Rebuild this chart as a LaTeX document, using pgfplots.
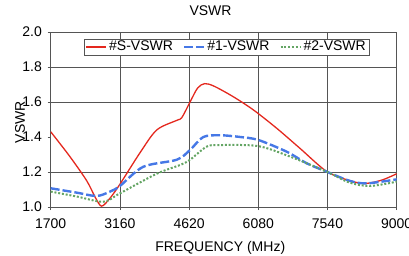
\documentclass[border=0pt]{standalone}
\usepackage{fontspec}
\setmainfont{Liberation Sans}
\usepackage{pgfplots}
\pgfplotsset{compat=1.18}
\definecolor{cred}{RGB}{228,40,30}
\definecolor{cblue}{RGB}{70,120,230}
\definecolor{cgreen}{RGB}{100,165,100}
\definecolor{cgrid}{RGB}{85,85,85}
\begin{document}
\begin{tikzpicture}
\fontsize{14}{16}\selectfont
\begin{axis}[
  at={(50.7pt,48pt)}, anchor=south west,
  scale only axis, width=346pt, height=175pt,
  xmin=1700, xmax=9000, ymin=1.0, ymax=2.0,
  xtick={1700,3160,4620,6080,7540,9000},
  ytick={1.0,1.2,1.4,1.6,1.8,2.0},
  yticklabels={1.0,1.2,1.4,1.6,1.8,2.0},
  xticklabel style={/pgf/number format/1000 sep={}},
  /pgf/number format/assume math mode=true,
  tick label style={font=\fontsize{14}{16}\selectfont},
  xmajorgrids=true,
  extra y ticks={1.2,1.6,1.8}, extra y tick labels={},
  extra y tick style={ymajorgrids=true, major tick length=0pt},
  grid style={cgrid, line width=0.8pt},
  axis line style={cgrid, line width=0.8pt},
  major tick style={cgrid, line width=0.8pt},
  tick align=outside, major tick length=3pt,
  xtick pos=bottom, ytick pos=left,
  xticklabel style={yshift=-4pt},
  yticklabel style={xshift=-1pt},
  xlabel={FREQUENCY (MHz)},
  xlabel style={at={(0.49,0)}, anchor=center, yshift=-41pt, font=\fontsize{14}{16}\selectfont},
  title={VSWR},
  title style={at={(0.462,1)}, anchor=center, yshift=15pt, font=\fontsize{14}{16}\selectfont},
  legend columns=3,
  legend style={at={(0.509,0.914)}, anchor=center, draw=cgrid, line width=0.6pt,
    font=\fontsize{14}{16}\selectfont, inner xsep=2pt, inner ysep=0pt,
    /tikz/every even column/.append style={column sep=8pt}},
  legend image code/.code={\draw[#1] (0pt,0pt) -- (20pt,0pt);},
]
\addplot[cred, line width=1.3pt, smooth, tension=0.5] coordinates {
(1700,1.43) (2100,1.29) (2460,1.15) (2650,1.05) (2776,1.005) (2950,1.05) (3160,1.13)
(3584,1.31) (3936,1.44) (4358,1.495) (4464,1.51) (4640,1.60) (4800,1.68) (4950,1.705)
(5150,1.69) (5553,1.63) (5975,1.555) (6468,1.45) (6960,1.335) (7540,1.20)
(8085,1.145) (8367,1.135) (8700,1.155) (9000,1.19)};
\addlegendentry{\#S-VSWR}
\addplot[cblue, line width=2.4pt, dash pattern=on 9pt off 3pt, smooth, tension=0.5] coordinates {
(1700,1.107) (2249,1.082) (2670,1.063) (2950,1.088) (3160,1.12) (3654,1.23) (4358,1.27)
(4640,1.326) (4919,1.40) (5271,1.41) (5700,1.40) (6080,1.383) (6679,1.316) (7100,1.25)
(7540,1.20) (8000,1.15) (8367,1.135) (9000,1.158)};
\addlegendentry{\#1-VSWR}
\addplot[cgreen, line width=2pt, dash pattern=on 2pt off 1.8pt, smooth, tension=0.5] coordinates {
(1700,1.088) (2249,1.06) (2810,1.03) (3160,1.078) (3936,1.19) (4429,1.24) (4640,1.27)
(4991,1.345) (5271,1.354) (6080,1.348) (6750,1.288) (7540,1.20) (8000,1.14) (8438,1.12)
(9000,1.145)};
\addlegendentry{\#2-VSWR}
\end{axis}
\node[rotate=90, font=\fontsize{14}{16}\selectfont] at (20pt,133pt) {VSWR};
\pgfresetboundingbox
\path[use as bounding box] (0,0) rectangle (409pt,255pt);
\end{tikzpicture}
\end{document}
